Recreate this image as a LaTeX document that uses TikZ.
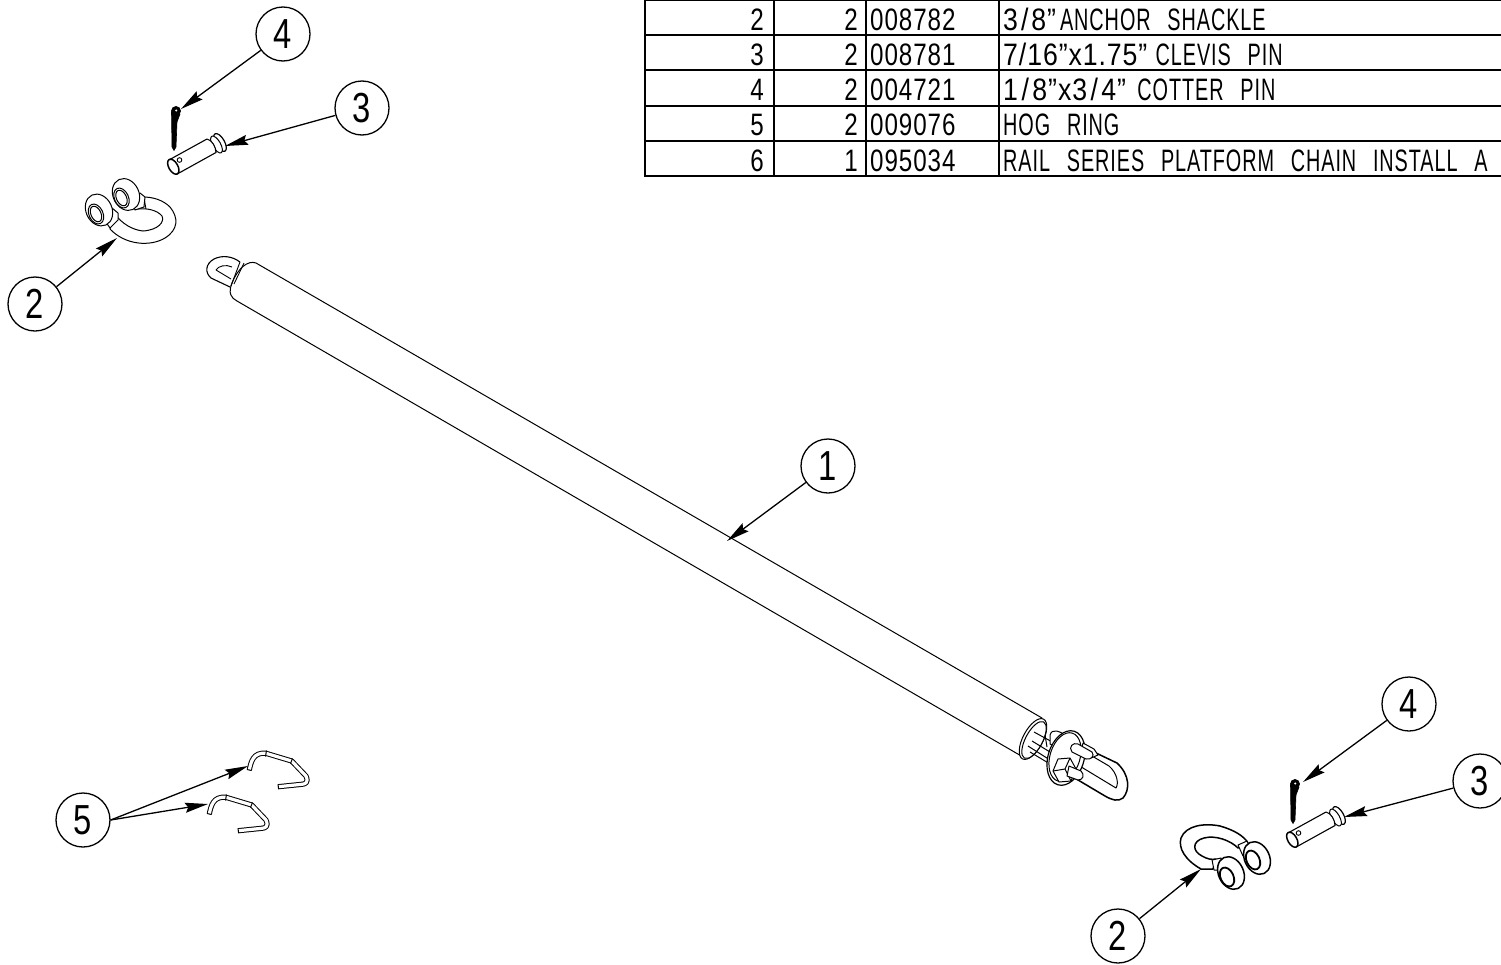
\documentclass[tikz,border=0pt]{standalone}
\usepackage{fontspec}
\usetikzlibrary{arrows.meta}
\setmainfont{Liberation Sans}
\newfontface\cadfont{Liberation Sans}[FakeStretch=0.78,LetterSpace=3]
\newfontface\numfont{Liberation Sans}[FakeStretch=0.86,LetterSpace=3]
\newfontface\ltrfont{Liberation Sans}[FakeStretch=0.64,WordSpace=2.6,LetterSpace=3]
\newcommand{\slk}[1]{\kern#1pt/\kern#1pt}
\tikzset{
  x=1pt,y=-1pt,
  balloon/.style={draw=black,circle,line width=1.3pt,minimum size=54pt,inner sep=0pt,fill=white,font=\fontsize{42}{42}\selectfont\cadfont},
  leader/.style={line width=1.3pt,-{Stealth[length=23pt,width=10pt,inset=3pt]}},
  grid line/.style={line width=1.4pt},
  cell/.style={inner sep=0pt,font=\fontsize{31}{31}\selectfont\cadfont},
  cellr/.style={cell,anchor=base east},
  celll/.style={cell,anchor=base west},
  part/.style={line width=1pt,fill=white,line join=round},
  heavy/.style={line width=1.5pt,fill=white,line join=round},
  cotterpin/.pic={
    \draw[line width=0.6pt,fill=black] (171.5,112) -- (172,147) -- (174,150.5) -- (176,147) -- (177,122) -- (180,114) -- cycle;
    \draw[line width=0.6pt,fill=black] (176,111) circle (4.6);
    \fill[white] (176.3,110.5) circle (1.1);
    \draw[part,line width=1.2pt,rotate around={30:(220,142.5)}] (220,142.5) ellipse (4.5 and 10);
    \draw[part,rotate around={30:(216.5,144.5)}] (216.5,144.5) ellipse (4 and 9.5);
    \draw[part,line width=1.1pt] (169.8,159.5) -- (207,139) .. controls (212,140) and (216,147) .. (216,152.5) -- (177.2,174) -- cycle;
    \draw[part,line width=1.5pt,rotate around={30:(173.3,166.7)}] (173.3,166.7) ellipse (4.5 and 8.3);
    \draw[line width=0.9pt,fill=white] (179.5,160) circle (2.3);
  },
  hogring/.pic={
    \draw[line width=1pt,double=white,double distance=3.2pt,line join=round,line cap=butt]
      (249.3,770) .. controls (251,762) and (253,752) .. (266,753.3)
      -- (291.7,761) -- (306,776) .. controls (309,783) and (305,784) .. (301.7,784.3) -- (278.3,786.7);
    \draw[line width=1pt] (266.5,750.5) -- (265.5,756.5) (292.5,758.5) -- (290.5,763.5) (278,784.2) -- (278.6,789.2)
      (247,769.5) -- (251.6,770.5);
  },
}
\begin{document}
\begin{tikzpicture}
\useasboundingbox (0,0) rectangle (1501,964);
% table
\draw[grid line] (645,0.7) -- (1501,0.7);
\foreach \yy in {35,70,106,176}{\draw[grid line] (645,\yy) -- (1501,\yy);}
\draw[line width=2pt] (645,141) -- (1501,141);
\foreach \xx in {645,774,866,999}{\draw[grid line] (\xx,0) -- (\xx,176.7);}
\node[cellr] (q2) at (764,30) {2};
\node[cellr] (q3) at (764,65) {3};
\node[cellr] (q4) at (764,100) {4};
\node[cellr] (q5) at (764,135.5) {5};
\node[cellr] (q6) at (764,171) {6};
\node[cellr] (n2) at (858,30) {2};
\node[cellr] (n3) at (858,65) {2};
\node[cellr] (n4) at (858,100) {2};
\node[cellr] (n5) at (858,135.5) {2};
\node[cellr] (n6) at (858,171) {1};
\node[celll] (c2) at (870,30) {008782};
\node[celll] (c3) at (870,65) {008781};
\node[celll] (c4) at (870,100) {004721};
\node[celll] (c5) at (870,135.5) {009076};
\node[celll] (c6) at (870,171) {095034};
\node[celll] (d2) at (1003,30) {\numfont 3\slk{3}8”\kern4pt{\ltrfont ANCHOR SHACKLE}};
\node[celll] (d3) at (1003,65) {\numfont 7/16”x1.75” {\ltrfont CLEVIS PIN}};
\node[celll] (d4) at (1003,100) {\numfont 1\slk{3.5}8”x3\slk{3.5}4” \kern3pt{\ltrfont COTTER PIN}};
\node[celll] (d5) at (1003,135.5) {\ltrfont HOG RING};
\node[celll] (d6) at (1003,171) {\ltrfont RAIL SERIES PLATFORM CHAIN INSTALL A};

% tube
\draw[part] (232,283) .. controls (228,293) and (231,298) .. (237,301) -- (1023,757)
  -- (1042,718) -- (256,263) .. controls (248,260) and (238,268) .. (232,283);
% left eye
\draw[line width=1.1pt] (240,262) .. controls (232,256) and (222,255) .. (214,259)
  .. controls (205,264) and (205,273) .. (211,278) -- (230,287);
\draw[line width=0.9pt] (240,262) -- (231,286) (244,263) -- (234,284);
\draw[line width=0.9pt] (216,270) .. controls (218,266) and (226,264) .. (232,267) (216,270) -- (231,279);
% right end of the tube
\draw[part,rotate around={-28:(1033,739)}] (1033,739) ellipse (10 and 22.5);
\draw[part,rotate around={-28:(1034,740)}] (1034,740) ellipse (8.5 and 20.5);
\draw[line width=1pt] (1034,732) -- (1056,744) (1032,741) -- (1050,752) (1028,746) -- (1050,760) (1030,752) -- (1050,764);
\draw[part] (1050,735) .. controls (1052,728) and (1060,731) .. (1066,736) -- (1062,750) -- (1050,744) -- cycle;
\draw[line width=1pt] (1045,735) -- (1047,747);
% loop of the right eye
\draw[heavy] (1075,743) -- (1117,763) .. controls (1130,775) and (1130,790) .. (1123,798)
  .. controls (1118,802) and (1112,800) .. (1105,796) -- (1073,777);
\draw[part] (1075,746) -- (1109,766) .. controls (1117,773) and (1119,783) .. (1116,788) -- (1078,765);
% plate
\draw[part,line width=1.2pt,rotate around={-17:(1066,758)}] (1066,758) ellipse (18 and 28);
\draw[part,rotate around={-17:(1065,757)}] (1065,757) ellipse (15 and 25);
% upper bolt
\draw[part] (1083,743) -- (1094,749) -- (1098,755) -- (1091,758) -- (1081,752) -- cycle;
\draw[part] (1078,744) -- (1092,752) .. controls (1095,756) and (1091,760) .. (1086,759) -- (1072,752) .. controls (1068,747) and (1073,742) .. (1078,744);
% lower nut and stud
\draw[part] (1058,759) -- (1070,758) -- (1076,769) -- (1071,781) -- (1059,782) -- (1053,771) -- cycle;
\draw[line width=1pt] (1053,771) -- (1065,769) -- (1070,758) (1065,769) -- (1071,781);
\draw[part] (1069,766) -- (1081,771) .. controls (1085,775) and (1083,780) .. (1078,780) -- (1067,776) -- cycle;

% left shackle
\draw[part] (110,229) .. controls (125,245) and (150,247) .. (165,238) .. controls (178,230) and (179,218) .. (170,207)
  .. controls (163,200) and (153,197) .. (143,197) -- (138,209) .. controls (147,208) and (157,210) .. (162,216)
  .. controls (165,222) and (158,230) .. (143,231) .. controls (133,230) and (122,224) .. (115,214) -- cycle;
\draw[line width=0.9pt] (144,198) -- (146,209);
\draw[part] (103,218) -- (112,208) -- (118,213) -- (118,220) -- (110,228) -- cycle;
\draw[part] (131,197) -- (140,193) -- (145,197) -- (144,207) -- (135,210) -- cycle;
\draw[part,rotate around={25:(99,210)}] (99,210) ellipse (13 and 16.5);
\draw[part,rotate around={25:(126,194.5)}] (126,194.5) ellipse (13 and 16.5);
\draw[part,rotate around={25:(96,214)}] (96,214) ellipse (7 and 10.5);
\draw[part,rotate around={25:(96,214)}] (96,214) ellipse (5 and 8.3);
\draw[part,rotate around={25:(121.5,198)}] (121.5,198) ellipse (7 and 10.5);
\draw[part,rotate around={25:(121.5,198)}] (121.5,198) ellipse (5 and 8.3);

% right shackle
\draw[heavy] (1201,869) .. controls (1185,860) and (1178,848) .. (1181,838) .. controls (1186,825) and (1205,823) .. (1220,826)
  .. controls (1234,830) and (1244,836) .. (1248,843) -- (1238,848) .. controls (1230,840) and (1215,835) .. (1204,838)
  .. controls (1192,841) and (1192,851) .. (1202,856) .. controls (1207,859) and (1212,860) .. (1216,859) -- (1213,869) -- cycle;
\draw[part] (1212,860) -- (1221,858) -- (1224,870) -- (1214,870) -- cycle;
\draw[part] (1238,845) -- (1247,841) -- (1252,852) -- (1243,856) -- cycle;
\draw[heavy,rotate around={25:(1231,873)}] (1231,873) ellipse (12.5 and 17);
\draw[heavy,rotate around={25:(1257,858)}] (1257,858) ellipse (12.5 and 17);
\draw[part,line width=1.8pt,rotate around={25:(1227,877)}] (1227,877) ellipse (6.5 and 10);
\draw[part,line width=1.8pt,rotate around={25:(1253,860)}] (1253,860) ellipse (6.5 and 10);

% pins
\pic (pinL) at (0,0) {cotterpin};
\pic (pinR) at (1119,673) {cotterpin};

% hog rings
\pic (ringA) at (0,0) {hogring};
\pic (ringB) at (-40,44) {hogring};

% balloons
\node[balloon] (b4a) at (283,34) {4};
\node[balloon] (b3a) at (362,108) {3};
\node[balloon] (b2a) at (35,304) {2};
\node[balloon] (b1) at (828,466) {1};
\node[balloon] (b4b) at (1409,704) {4};
\node[balloon] (b3b) at (1480,781) {3};
\node[balloon] (b2b) at (1118,936) {2};
\node[balloon] (b5) at (83,820) {5};
% leader targets
\coordinate (t4a) at (181,109);
\coordinate (t3a) at (225,146);
\coordinate (t2a) at (117,238);
\coordinate (t1) at (727,541);
\coordinate (t4b) at (1303,782);
\coordinate (t3b) at (1344,817);
\coordinate (t2b) at (1201,869);
\coordinate (t5a) at (248,766);
\coordinate (t5b) at (208,804);
\draw[leader] (b4a) -- (t4a);
\draw[leader] (b3a) -- (t3a);
\draw[leader] (b2a) -- (t2a);
\draw[leader] (b1) -- (t1);
\draw[leader] (b4b) -- (t4b);
\draw[leader] (b3b) -- (t3b);
\draw[leader] (b2b) -- (t2b);
\draw[leader] (b5.east) -- (t5a);
\draw[leader] (b5.east) -- (t5b);
\end{tikzpicture}
\end{document}
